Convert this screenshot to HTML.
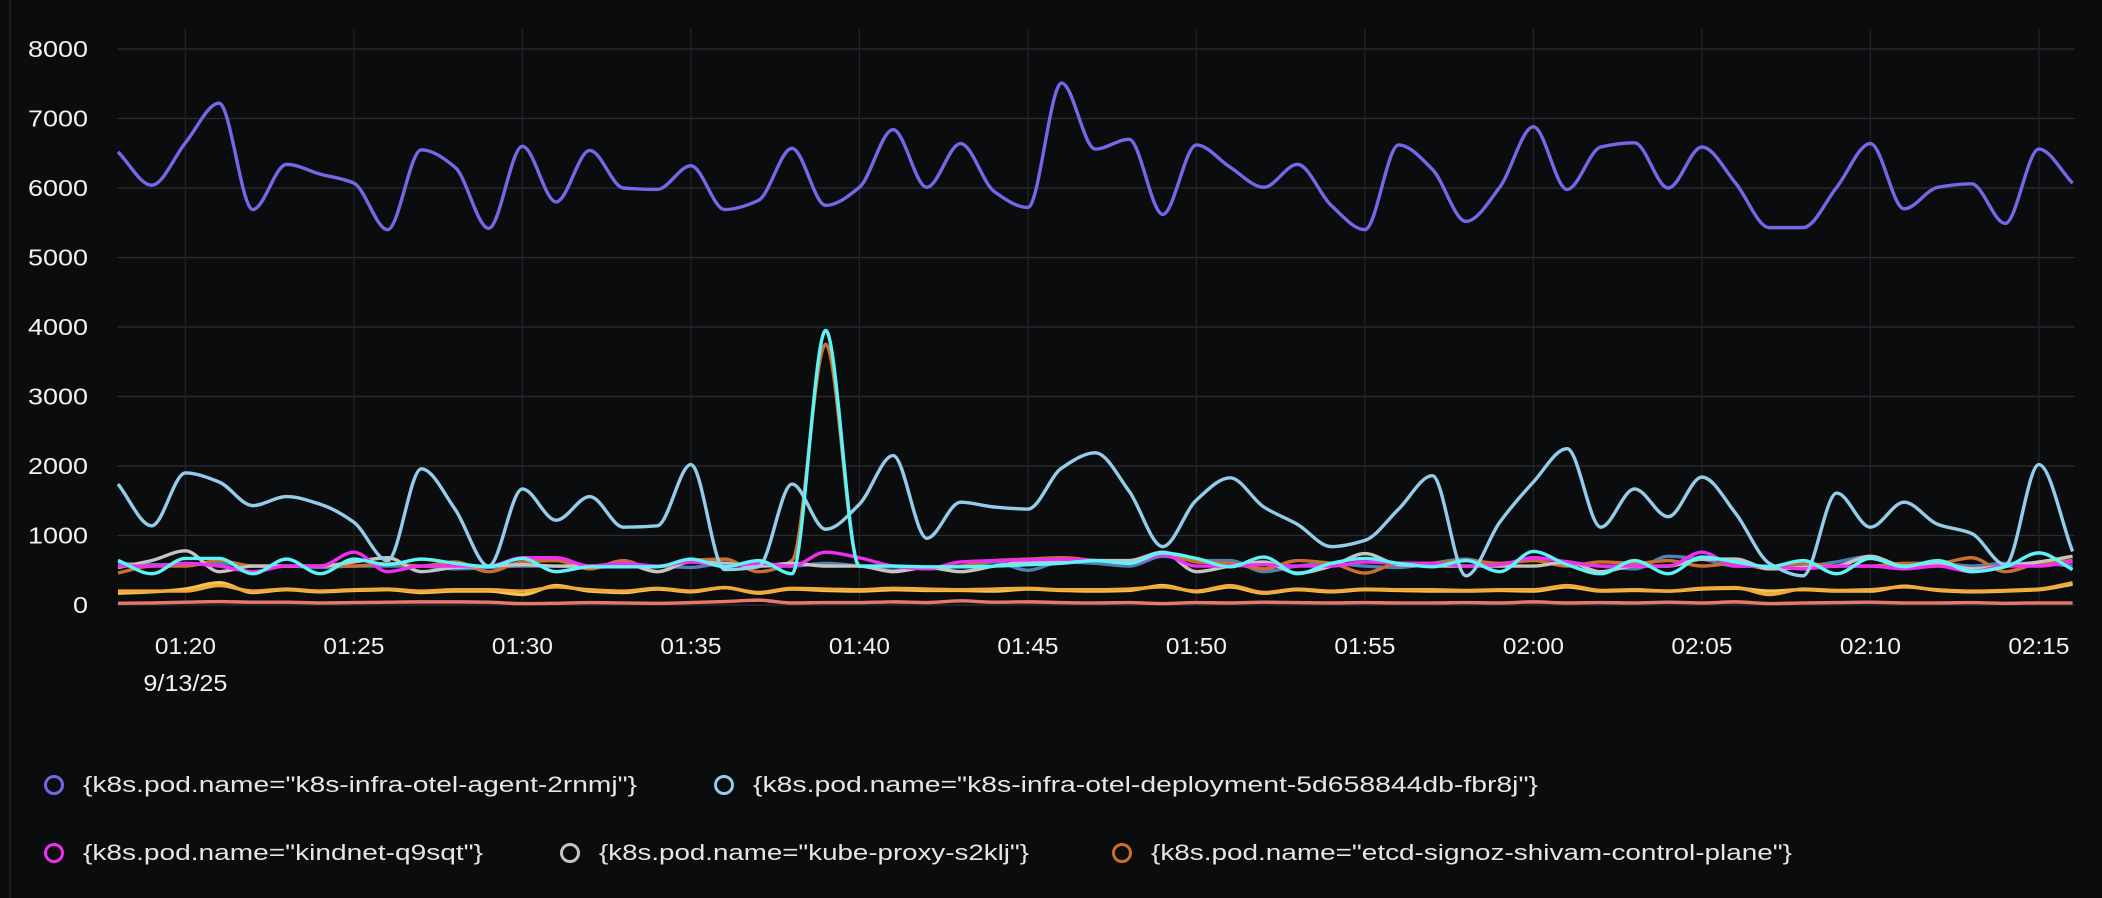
<!DOCTYPE html>
<html><head><meta charset="utf-8">
<style>
html,body{margin:0;padding:0;background:#0b0c0e;width:2102px;height:898px;overflow:hidden;}
svg{display:block;font-family:"Liberation Sans",sans-serif;}
</style></head>
<body>
<svg id="chart" width="2102" height="898" viewBox="0 0 2102 898">
<rect x="0" y="0" width="2102" height="898" fill="#0b0c0e"/>
<line x1="10" y1="0" x2="10" y2="898" stroke="#1c1d20" stroke-width="2"/>
<g id="grid"></g>
<g id="yticks"></g>
<g id="xticks"></g>
<g id="series"></g>
<g id="legend"></g>
</svg>
<script>
const xTickLabels = ["01:20","01:25","01:30","01:35","01:40","01:45","01:50","01:55","02:00","02:05","02:10","02:15"];
const xTickMinutes = [2,7,12,17,22,27,32,37,42,47,52,57];
const yTicks = [0,1000,2000,3000,4000,5000,6000,7000,8000];
const dateLabel = "9/13/25";

const agent = [6520,6040,6650,7220,5690,6340,6200,6070,5400,6550,6300,5420,6600,5800,6540,6000,5980,6320,5690,5820,6570,5750,6010,6840,6010,6640,5950,5720,7510,6560,6700,5620,6620,6300,6010,6340,5750,5400,6620,6270,5520,6010,6880,5980,6590,6650,6000,6590,6070,5430,5430,6010,6640,5700,6010,6060,5490,6560,6070];
const deployment = [1740,1140,1900,1770,1430,1560,1450,1190,640,1960,1380,560,1670,1220,1560,1120,1140,2020,510,550,1740,1090,1450,2150,960,1480,1410,1380,1970,2190,1640,840,1510,1830,1410,1160,840,930,1380,1860,420,1190,1770,2250,1120,1670,1270,1840,1320,600,420,1610,1120,1480,1160,1030,580,2020,770];
const kindnet = [560,560,600,560,480,560,560,760,480,560,560,560,680,680,560,600,560,620,560,600,560,760,680,560,520,620,640,650,660,640,600,720,560,560,580,560,560,620,600,600,560,580,680,620,560,560,560,760,560,560,520,560,560,520,560,480,560,560,620];
const kubeProxy = [540,640,780,480,560,560,560,620,680,480,540,560,580,560,560,600,480,620,600,560,600,560,560,480,540,480,560,620,620,640,640,760,480,560,620,460,560,740,580,560,560,560,560,620,480,560,560,660,660,520,540,560,700,560,600,520,560,620,700];
const etcd = [460,560,560,640,560,560,560,560,600,560,620,480,620,640,520,640,480,640,660,480,640,3750,560,560,520,560,640,660,680,640,600,760,620,600,520,640,600,460,600,600,640,600,640,560,620,600,640,560,600,520,600,560,560,600,600,680,480,600,640];
const steel = [600,580,580,600,560,560,540,560,560,560,520,540,560,560,540,560,560,540,600,560,560,600,560,500,540,560,620,500,620,600,560,700,640,640,480,560,600,560,540,600,660,560,680,620,560,520,700,660,560,560,560,620,700,560,600,560,600,600,560];
const yellow = [200,200,200,280,200,230,200,220,230,200,220,220,200,260,220,200,240,200,250,180,240,230,220,240,230,220,230,240,220,220,230,260,200,280,180,230,200,230,220,220,210,220,220,280,210,220,200,240,250,150,230,210,220,260,220,200,210,230,320];
const gold = [170,190,230,320,180,220,190,210,220,180,200,200,150,280,200,180,230,190,250,170,230,210,200,220,210,210,200,230,210,200,210,280,190,260,170,220,190,220,210,200,200,210,200,260,200,210,200,230,240,200,220,200,200,270,210,190,200,220,300];
const salmon = [25,30,40,50,40,40,30,35,40,45,45,40,20,25,35,30,25,35,50,70,30,35,35,45,35,60,40,45,35,30,35,20,35,30,40,35,30,35,30,30,35,30,45,30,35,30,40,30,45,20,30,35,40,30,30,35,25,30,30];
const cyan = [640,450,670,670,450,660,450,660,580,660,600,550,670,480,550,550,550,660,550,640,450,3950,560,560,550,550,560,580,600,640,600,750,670,550,690,450,600,670,600,550,640,480,770,580,450,640,450,690,620,550,640,450,670,550,640,480,550,750,510];

const X0 = 118, PX_PER_MIN = 33.7, Y0 = 605, PX_PER_UNIT = 556/8000;
const xs = i => X0 + i * PX_PER_MIN;
const ys = v => Y0 - v * PX_PER_UNIT;
const NS = "http://www.w3.org/2000/svg";
function mk(tag, attrs, parent){ const e=document.createElementNS(NS,tag); for(const k in attrs) e.setAttribute(k,attrs[k]); parent.appendChild(e); return e; }

const grid = document.getElementById('grid');
yTicks.forEach(v=>{
  const l = mk('line',{x1:117,x2:2075,y1:ys(v),y2:ys(v),stroke:'#2b2c30','stroke-width':1.3},grid);
  
  
  const s = String(v);
  const t = mk('text',{x:88,y:ys(v)+8,fill:'#f2f2f2','font-size':23,'text-anchor':'end',textLength:s.length*15,lengthAdjust:'spacingAndGlyphs'},document.getElementById('yticks'));
  t.textContent = s;
  
  
});
xTickMinutes.forEach((m,i)=>{
  const l = mk('line',{x1:xs(m),x2:xs(m),y1:29,y2:605,stroke:'#222326','stroke-width':1.3},grid);
  
  
  const t = mk('text',{x:xs(m),y:654,fill:'#f2f2f2','font-size':23,'text-anchor':'middle',textLength:61,lengthAdjust:'spacingAndGlyphs'},document.getElementById('xticks'));
  t.textContent = xTickLabels[i];
  
  
});
const dt = mk('text',{x:xs(xTickMinutes[0]),y:691,fill:'#f2f2f2','font-size':23,'text-anchor':'middle',textLength:84,lengthAdjust:'spacingAndGlyphs'},document.getElementById('xticks'));
dt.textContent = dateLabel;



// monotone cubic (Fritsch-Carlson)
function pathFor(vals){
  const n = vals.length;
  const px = vals.map((v,i)=>xs(i)), py = vals.map(v=>ys(v));
  const d = [], m = new Array(n);
  for(let i=0;i<n-1;i++) d.push((py[i+1]-py[i])/(px[i+1]-px[i]));
  m[0]=d[0]; m[n-1]=d[n-2];
  for(let i=1;i<n-1;i++){
    if(d[i-1]*d[i]<=0) m[i]=0;
    else { const h0=px[i]-px[i-1], h1=px[i+1]-px[i]; const w1=2*h1+h0, w2=h1+2*h0; m[i]=(w1+w2)/(w1/d[i-1]+w2/d[i]); }
  }
  let s = `M${px[0]},${py[0]}`;
  for(let i=0;i<n-1;i++){
    const h=(px[i+1]-px[i])/3;
    s += ` C${px[i]+h},${py[i]+m[i]*h} ${px[i+1]-h},${py[i+1]-m[i+1]*h} ${px[i+1]},${py[i+1]}`;
  }
  return s;
}
const seriesList = [
  [salmon,'#e8786c','line-salmon'],
  [gold,'#f3c550','line-gold'],
  [yellow,'#f0a93a','line-yellow'],
  [steel,'#4f80b5','line-steelblue'],
  [etcd,'#c8702f','line-etcd'],
  [kubeProxy,'#c4c4c4','line-kube-proxy'],
  [kindnet,'#f02ef0','line-kindnet'],
  [deployment,'#94cdea','line-deployment'],
  [agent,'#7767e8','line-agent'],
  [cyan,'#5ef3f6','line-cyan'],
];
const sg = document.getElementById('series');
seriesList.forEach(([vals,col,name])=>{
  const p = mk('path',{d:pathFor(vals),fill:'none',stroke:col,'stroke-width':3.4,'stroke-linejoin':'round'},sg);
  
  
});

const legendItems = [
  ['{k8s.pod.name="k8s-infra-otel-agent-2rnmj"}','#7767e8',54,785,554],
  ['{k8s.pod.name="k8s-infra-otel-deployment-5d658844db-fbr8j"}','#94cdea',724,785,785],
  ['{k8s.pod.name="kindnet-q9sqt"}','#f02ef0',54,853,400],
  ['{k8s.pod.name="kube-proxy-s2klj"}','#c4c4c4',570,853,430],
  ['{k8s.pod.name="etcd-signoz-shivam-control-plane"}','#c8702f',1122,853,641],
];
const lg = document.getElementById('legend');
legendItems.forEach(([label,col,cx,cy,w])=>{
  const g = mk('g',{},lg);
  
  
  const c = mk('circle',{cx:cx,cy:cy,r:8.5,fill:'none',stroke:col,'stroke-width':3},g);
  
  
  const t = mk('text',{x:cx+29,y:cy+7,fill:'#e6e6e6','font-size':22,textLength:w,lengthAdjust:'spacingAndGlyphs'},g);
  t.textContent = label;
  
  
});
</script>
</body></html>
